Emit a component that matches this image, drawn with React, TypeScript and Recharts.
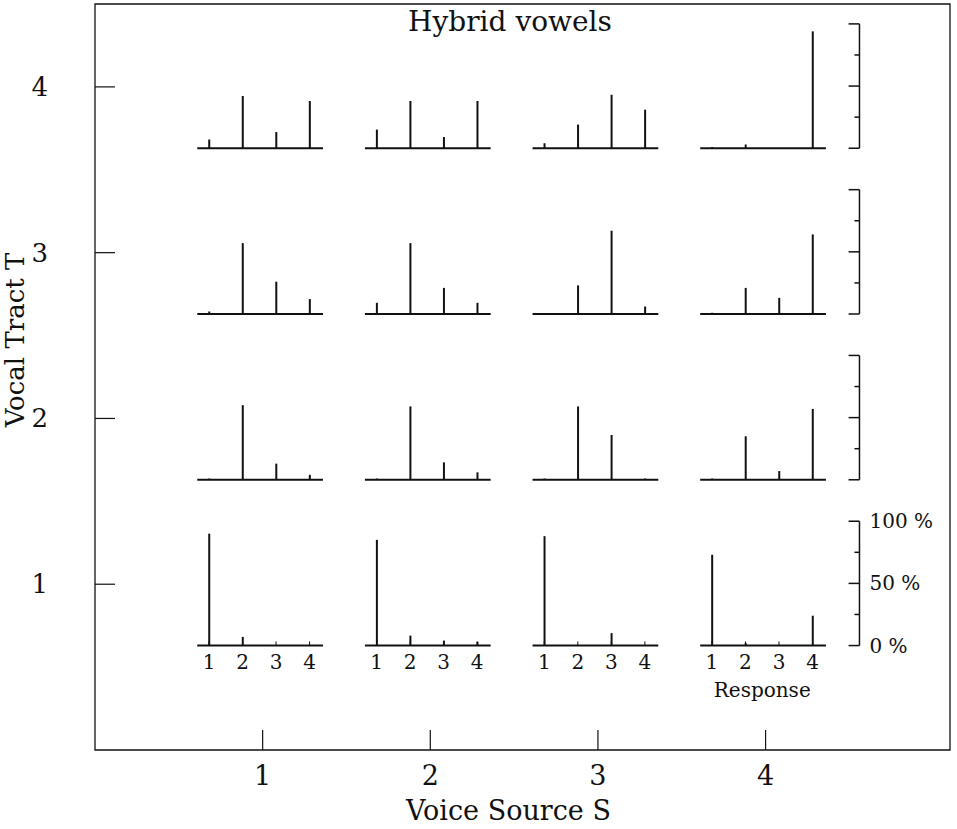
import React from "react";
import {
  ComposedChart,
  XAxis,
  YAxis,
  Bar,
  ReferenceLine,
  ReferenceArea,
  ReferenceDot,
} from "recharts";

const FONT = '"DejaVu Serif", serif';
const INK = "#111";

const voiceSources = [1, 2, 3, 4];
const vocalTracts = [1, 2, 3, 4];
const responses = [1, 2, 3, 4];
const mainTicks = [1, 2, 3, 4];
const percentTicks = [0, 25, 50, 75, 100];
const percentLabels = [
  { p: 0, text: "0 %" },
  { p: 50, text: "50 %" },
  { p: 100, text: "100 %" },
];

// % of answers for response 1..4, one row per voice source S = 1..4
const tract1 = [
  [90, 7, 0, 0],
  [85, 8, 4, 3],
  [88, 0, 10, 0],
  [73, 2, 0, 24],
];
const tract2 = [
  [1, 60, 13, 4],
  [1, 59, 14, 6],
  [1, 59, 36, 1],
  [1, 35, 7, 57],
];
const tract3 = [
  [2, 57, 26, 12],
  [9, 57, 21, 9],
  [0, 23, 67, 6],
  [1, 21, 13, 64],
];
const tract4 = [
  [7, 42, 13, 38],
  [15, 38, 9, 38],
  [4, 19, 43, 31],
  [1, 3, 0, 94],
];
const shares = [tract1, tract2, tract3, tract4];

// one small panel, in units of the outer S / T axes
const respOffset = [-0.32, -0.12, 0.08, 0.28];
const drop = 0.37;
const full = 0.75;
const panelLeft = -0.39;
const panelRight = 0.36;
const scaleX = 4.56;

const spikes = vocalTracts
  .flatMap((t, ti) =>
    voiceSources.flatMap((s, si) =>
      responses.map((r, ri) => ({
        s,
        t,
        r,
        x: s + respOffset[ri],
        base: t - drop,
        top: t - drop + (shares[ti][si][ri] / 100) * full,
      }))
    )
  )
  .filter((d) => d.top > d.base);

const XTick = ({ x, y, payload }: any) => (
  <g>
    <line x1={x} y1={y} x2={x} y2={y - 20} stroke={INK} strokeWidth={1.2} />
    <text x={x} y={y + 35} textAnchor="middle" fontFamily={FONT} fontSize={27} fill={INK}>
      {payload.value}
    </text>
  </g>
);

const YTick = ({ x, y, payload }: any) => (
  <g>
    <line x1={x} y1={y} x2={x + 20} y2={y} stroke={INK} strokeWidth={1.2} />
    <text x={x - 47} y={y} textAnchor="end" dominantBaseline="central" fontFamily={FONT} fontSize={26} fill={INK}>
      {payload.value}
    </text>
  </g>
);

const smallText = (text: string, dx: number, dy: number, anchor: string) => (p: any) => (
  <text
    x={p.cx + dx}
    y={p.cy + dy}
    textAnchor={anchor}
    dominantBaseline="central"
    fontFamily={FONT}
    fontSize={20}
    fill={INK}
  >
    {text}
  </text>
);

export default function App() {
  return (
    <div style={{ position: "absolute", left: 0, top: 0, width: 957, height: 829, background: "#fff" }}>
      <div
        style={{
          position: "absolute",
          left: 310,
          width: 400,
          top: 5,
          textAlign: "center",
          fontFamily: FONT,
          fontSize: 28,
          color: INK,
        }}
      >
        Hybrid vowels
      </div>
      <ComposedChart
        width={957}
        height={829}
        data={spikes}
        margin={{ top: 4, right: 7, left: 0, bottom: 0 }}
      >
        <XAxis
          type="number"
          dataKey="x"
          domain={[0, 5.1]}
          ticks={mainTicks}
          height={79}
          axisLine={false}
          tickLine={false}
          tickSize={0}
          tickMargin={0}
          tick={<XTick />}
          label={(p: any) => (
            <text
              x={p.viewBox.x + p.viewBox.width / 2 - 14}
              y={p.viewBox.y + 70}
              textAnchor="middle"
              fontFamily={FONT}
              fontSize={27}
              fill={INK}
            >
              Voice Source S
            </text>
          )}
        />
        <YAxis
          type="number"
          domain={[0, 4.5]}
          ticks={mainTicks}
          width={95}
          axisLine={false}
          tickLine={false}
          tickSize={0}
          tickMargin={0}
          tick={<YTick />}
          label={(p: any) => (
            <text
              transform={`translate(15, ${p.viewBox.y + 336}) rotate(-90)`}
              textAnchor="middle"
              dominantBaseline="central"
              fontFamily={FONT}
              fontSize={26}
              fill={INK}
            >
              Vocal Tract T
            </text>
          )}
        />
        <ReferenceArea
          x1={0}
          x2={5.1}
          y1={0}
          y2={4.5}
          fill="none"
          stroke={INK}
          strokeWidth={1.3}
          ifOverflow="visible"
        />
        {vocalTracts.flatMap((t) =>
          voiceSources.map((s) => (
            <ReferenceLine
              key={`base-${t}-${s}`}
              segment={[
                { x: s + panelLeft, y: t - drop },
                { x: s + panelRight, y: t - drop },
              ]}
              stroke={INK}
              strokeWidth={2}
              ifOverflow="visible"
            />
          ))
        )}
        {vocalTracts.map((t) => (
          <ReferenceLine
            key={`scale-${t}`}
            segment={[
              { x: scaleX, y: t - drop },
              { x: scaleX, y: t - drop + full },
            ]}
            stroke={INK}
            strokeWidth={1.5}
            ifOverflow="visible"
          />
        ))}
        {vocalTracts.flatMap((t) =>
          percentTicks.map((p) => (
            <ReferenceLine
              key={`scale-tick-${t}-${p}`}
              segment={[
                { x: scaleX - (p % 50 === 0 ? 0.065 : 0.03), y: t - drop + (p / 100) * full },
                { x: scaleX, y: t - drop + (p / 100) * full },
              ]}
              stroke={INK}
              strokeWidth={1.5}
              ifOverflow="visible"
            />
          ))
        )}
        {voiceSources.flatMap((s) =>
          responses.map((r, ri) => (
            <ReferenceLine
              key={`resp-tick-${s}-${r}`}
              segment={[
                { x: s + respOffset[ri], y: 1 - drop },
                { x: s + respOffset[ri], y: 1 - drop + 0.025 },
              ]}
              stroke={INK}
              strokeWidth={1}
              ifOverflow="visible"
            />
          ))
        )}
        {voiceSources.flatMap((s) =>
          responses.map((r, ri) => (
            <ReferenceDot
              key={`resp-label-${s}-${r}`}
              x={s + respOffset[ri]}
              y={1 - drop}
              r={1}
              ifOverflow="visible"
              shape={smallText(String(r), 0, 16, "middle")}
            />
          ))
        )}
        <ReferenceDot
          x={4 + (respOffset[0] + respOffset[3]) / 2}
          y={1 - drop}
          r={1}
          ifOverflow="visible"
          shape={smallText("Response", 0, 44, "middle")}
        />
        {percentLabels.map((l) => (
          <ReferenceDot
            key={`pct-${l.p}`}
            x={scaleX}
            y={1 - drop + (l.p / 100) * full}
            r={1}
            ifOverflow="visible"
            shape={smallText(l.text, 10, 0, "start")}
          />
        ))}
        <Bar
          dataKey={(d: any) => [d.base, d.top]}
          barSize={2}
          fill={INK}
          isAnimationActive={false}
        />
      </ComposedChart>
    </div>
  );
}
